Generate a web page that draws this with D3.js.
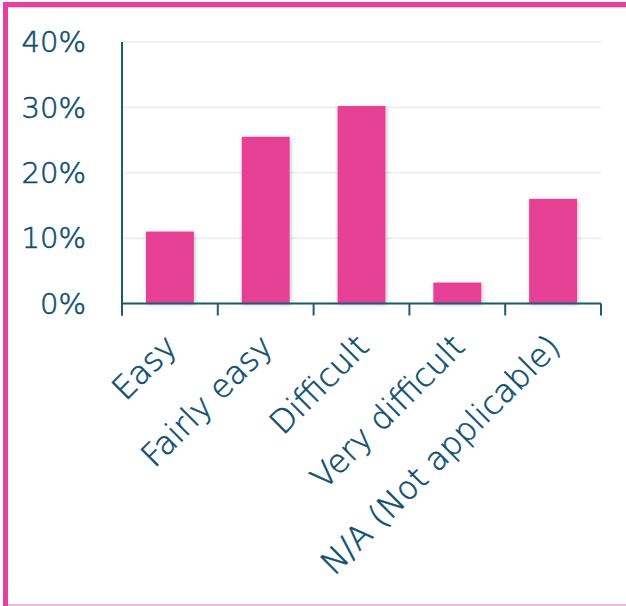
<!DOCTYPE html>
<html>
<head>
<meta charset="utf-8">
<script src="https://cdn.jsdelivr.net/npm/d3@7"></script>
<style>
  body { margin: 0; background: #fff; }
  text { font-family: "DejaVu Sans", sans-serif; fill: #0f5070; stroke: #0f5070; stroke-width: 0.6px; font-weight: 200; }
</style>
</head>
<body>
<script>
var categories = ["Easy", "Fairly easy", "Difficult", "Very difficult", "N/A (Not applicable)"];
var values = [11.0, 25.5, 30.2, 3.2, 16.0];
var yTicks = [0, 10, 20, 30, 40];

var svgWidth = 626;
var svgHeight = 606;

var margin = { top: 42, right: 25, bottom: 302.5, left: 122 };
var width = svgWidth - margin.left - margin.right;
var height = svgHeight - margin.top - margin.bottom;

var svg = d3.select("body")
  .append("svg")
  .attr("width", svgWidth)
  .attr("height", svgHeight);

// drop shadow for the bars
var defs = svg.append("defs");
defs.append("filter")
  .attr("id", "shadow")
  .attr("x", "-20%").attr("y", "-20%").attr("width", "140%").attr("height", "140%")
  .append("feDropShadow")
  .attr("dx", 1).attr("dy", 1)
  .attr("stdDeviation", 2)
  .attr("flood-color", "#000")
  .attr("flood-opacity", 0.25);

// frame
svg.append("rect").attr("x", 3).attr("y", 2).attr("width", 5).attr("height", svgHeight - 2).attr("fill", "#e8409a");
svg.append("rect").attr("x", 3).attr("y", 2).attr("width", svgWidth - 3).attr("height", 5).attr("fill", "#e8409a");
svg.append("rect").attr("x", 8).attr("y", 7).attr("width", svgWidth - 8).attr("height", 1).attr("fill", "#f7c6df");
svg.append("rect").attr("x", 8).attr("y", svgHeight - 2).attr("width", svgWidth - 8).attr("height", 2).attr("fill", "#f0b8d6");

var chartGroup = svg.append("g")
  .attr("transform", `translate(${margin.left}, ${margin.top})`);

var xBandScale = d3.scaleBand()
  .domain(categories)
  .range([0, width])
  .paddingInner(0.5)
  .paddingOuter(0.25);

var yLinearScale = d3.scaleLinear().domain([0, 40]).range([height, 0]);

// gridlines
chartGroup.selectAll(".grid")
  .data(yTicks)
  .enter()
  .append("line")
  .attr("x1", 0)
  .attr("x2", width)
  .attr("y1", d => yLinearScale(d))
  .attr("y2", d => yLinearScale(d))
  .attr("stroke", "#f0f0f0")
  .attr("stroke-width", 2);

// y labels
chartGroup.selectAll(".ylab")
  .data(yTicks)
  .enter()
  .append("text")
  .attr("x", -36)
  .attr("y", d => yLinearScale(d))
  .attr("dy", "0.35em")
  .attr("text-anchor", "end")
  .style("font-size", "29px")
  .text(d => d + "%");

// bars
chartGroup.selectAll(".bar")
  .data(categories)
  .enter()
  .append("rect")
  .attr("x", d => xBandScale(d))
  .attr("width", xBandScale.bandwidth())
  .attr("y", (d, i) => yLinearScale(values[i]))
  .attr("height", (d, i) => height - yLinearScale(values[i]))
  .attr("fill", "#e64095")
  .attr("filter", "url(#shadow)");

// axes
var axisColor = "#1d5a73";
chartGroup.append("line")
  .attr("x1", 0).attr("x2", 0)
  .attr("y1", 0).attr("y2", height + 12)
  .attr("stroke", axisColor).attr("stroke-width", 2);

chartGroup.append("line")
  .attr("x1", 0).attr("x2", width)
  .attr("y1", height).attr("y2", height)
  .attr("stroke", axisColor).attr("stroke-width", 2);

var tickPos = d3.range(categories.length + 1).map(i => i * xBandScale.step());
chartGroup.selectAll(".xtick")
  .data(tickPos)
  .enter()
  .append("line")
  .attr("x1", d => d).attr("x2", d => d)
  .attr("y1", height).attr("y2", height + 12)
  .attr("stroke", axisColor).attr("stroke-width", 2);

// x labels
chartGroup.selectAll(".xlab")
  .data(categories)
  .enter()
  .append("text")
  .attr("text-anchor", "end")
  .attr("transform", d => `translate(${xBandScale(d) + xBandScale.bandwidth() / 2 + 9}, ${height + 45}) rotate(-45)`)
  .style("font-size", "32px")
  .text(d => d);
</script>
</body>
</html>
